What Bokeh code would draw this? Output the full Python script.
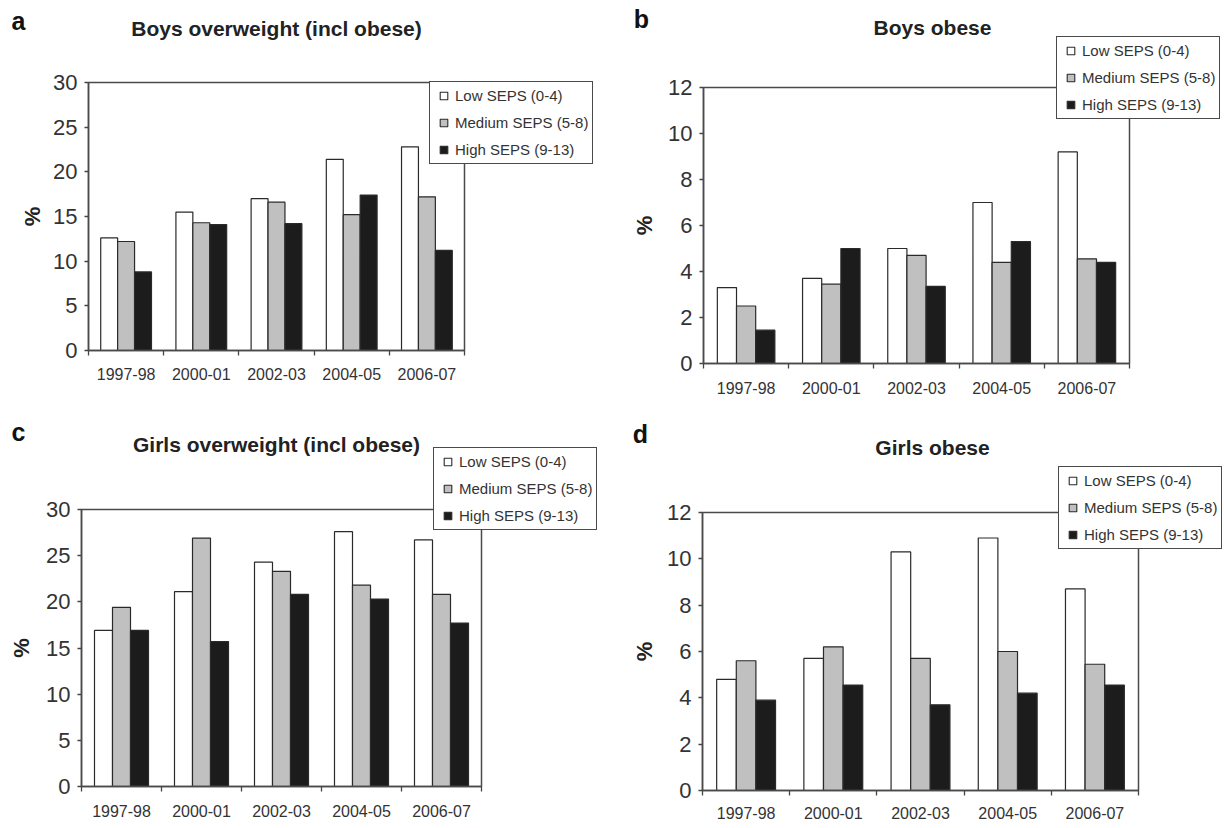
from bokeh.plotting import figure
from bokeh.models import Range1d, FixedTicker, Legend, LegendItem, Label, BoxAnnotation
from bokeh.layouts import column, row
from bokeh.embed import file_html
from bokeh.resources import INLINE

# ---------------- data ----------------
categories = ["1997-98", "2000-01", "2002-03", "2004-05", "2006-07"]
series_names = ["Low SEPS (0-4)", "Medium SEPS (5-8)", "High SEPS (9-13)"]

boys_ow_low = [12.6, 15.5, 17.0, 21.4, 22.8]
boys_ow_med = [12.2, 14.3, 16.6, 15.2, 17.2]
boys_ow_high = [8.8, 14.1, 14.2, 17.4, 11.2]

boys_ob_low = [3.3, 3.7, 5.0, 7.0, 9.2]
boys_ob_med = [2.5, 3.45, 4.7, 4.4, 4.55]
boys_ob_high = [1.45, 5.0, 3.35, 5.3, 4.4]

girls_ow_low = [16.9, 21.1, 24.3, 27.6, 26.7]
girls_ow_med = [19.4, 26.9, 23.3, 21.8, 20.8]
girls_ow_high = [16.9, 15.7, 20.8, 20.3, 17.7]

girls_ob_low = [4.8, 5.7, 10.3, 10.9, 8.7]
girls_ob_med = [5.6, 6.2, 5.7, 6.0, 5.45]
girls_ob_high = [3.9, 4.55, 3.7, 4.2, 4.55]

y_ticks_ow = [0, 5, 10, 15, 20, 25, 30]
y_ticks_ob = [0, 2, 4, 6, 8, 10, 12]

# ---------------- style ----------------
FONT = "Liberation Sans"
fills = ["#ffffff", "#c0c0c0", "#1c1c1c"]
edge = "#2a2a2a"
axis_col = "#444444"
BAR_W = 0.225
offsets = [-BAR_W, 0.0, BAR_W]
NAN = float("nan")


def make_panel(letter, title, series, yticks, size, box, legend_loc,
               title_xy, letter_xy, ylab_standoff, xlab_standoff):
    """box = (left, top, right, bottom) pixel position of the plotting box inside the figure."""
    W, H = size
    L, T, R, B = box
    n = len(categories)
    ymax = yticks[-1]
    sx = (R - L) / n          # px per category
    sy = (B - T) / ymax       # px per y unit
    x0, x1 = -0.5, n - 0.5
    xr = Range1d(x0 - L / sx, x1 + (W - R) / sx)
    yr = Range1d(-(H - B) / sy, ymax + T / sy)

    p = figure(width=W, height=H, title=None, x_range=xr, y_range=yr,
               output_backend="svg", toolbar_location=None,
               min_border_left=0, min_border_top=0,
               min_border_right=0, min_border_bottom=0)
    p.xgrid.visible = False
    p.ygrid.visible = False
    p.background_fill_color = "white"
    p.border_fill_color = "white"
    p.outline_line_color = None

    idx = list(range(n))
    for k, vals in enumerate(series):
        xs = [i + offsets[k] for i in idx]
        p.vbar(x=xs, top=vals, bottom=0, width=BAR_W,
               fill_color=fills[k], line_color=edge, line_width=1.2)

    # plotting box outline (top & right sides visible)
    p.add_layout(BoxAnnotation(left=x0, right=x1, bottom=0, top=ymax,
                               fill_alpha=0, line_color="#4a4a4a", line_alpha=1.0,
                               line_width=1.5))

    # x axis: labels at category centres, ticks at category boundaries
    xa = p.xaxis[0]
    xa.fixed_location = 0
    xa.bounds = (x0, x1)
    xa.ticker = FixedTicker(ticks=idx, minor_ticks=[i - 0.5 for i in range(n + 1)])
    xa.major_label_overrides = {i: c for i, c in zip(idx, categories)}
    xa.major_tick_line_color = None
    xa.major_tick_out = 0
    xa.major_tick_in = 0
    xa.minor_tick_in = 0
    xa.minor_tick_out = 5
    xa.minor_tick_line_color = axis_col
    xa.minor_tick_line_width = 1.3
    xa.axis_line_color = axis_col
    xa.axis_line_width = 1.5
    xa.major_label_standoff = xlab_standoff
    xa.major_label_text_font = FONT
    xa.major_label_text_font_size = "16px"
    xa.major_label_text_color = "#333333"

    ya = p.yaxis[0]
    ya.fixed_location = x0
    ya.bounds = (0, ymax)
    ya.ticker = FixedTicker(ticks=yticks)
    ya.minor_tick_line_color = None
    ya.major_tick_out = 4
    ya.major_tick_in = 0
    ya.major_tick_line_color = axis_col
    ya.major_tick_line_width = 1.3
    ya.axis_line_color = axis_col
    ya.axis_line_width = 1.5
    ya.major_label_standoff = 7
    ya.major_label_text_font = FONT
    ya.major_label_text_font_size = "22px"
    ya.major_label_text_color = "#333333"
    ya.axis_label = "%"
    ya.axis_label_text_font = FONT
    ya.axis_label_text_font_size = "22px"
    ya.axis_label_text_font_style = "bold"
    ya.axis_label_text_color = "#222222"
    ya.axis_label_standoff = ylab_standoff

    # legend (small square swatches; proxy renderers hold no visible point)
    rs = [p.scatter(x=[NAN], y=[NAN], marker="square", size=8, fill_color=fills[k],
                    line_color=edge, line_width=1.1) for k in range(3)]
    legend = Legend(items=[LegendItem(label=nm, renderers=[r]) for nm, r in zip(series_names, rs)],
                    location=legend_loc, margin=0, padding=4, spacing=8,
                    glyph_width=19, glyph_height=19, label_height=19, label_standoff=2,
                    label_text_font=FONT, label_text_font_size="15px",
                    label_text_color="#333333",
                    border_line_color="#4a4a4a", border_line_alpha=1.0, border_line_width=1.5,
                    background_fill_color="white", background_fill_alpha=1.0)
    p.add_layout(legend)

    p.add_layout(Label(x=title_xy[0], y=title_xy[1], x_units="screen", y_units="screen",
                       text=title, text_font=FONT, text_font_style="bold",
                       text_font_size="21px", text_align="center",
                       text_baseline="middle", text_color="#222222"))
    p.add_layout(Label(x=letter_xy[0], y=letter_xy[1], x_units="screen", y_units="screen",
                       text=letter, text_font=FONT, text_font_style="bold",
                       text_font_size="25px", text_align="center",
                       text_baseline="middle", text_color="#111111"))
    return p


pa = make_panel("a", "Boys overweight (incl obese)",
                [boys_ow_low, boys_ow_med, boys_ow_high], y_ticks_ow,
                (612, 414), (88, 82, 464, 350), (429, 250),
                (276, 386), (18, 394), 5, 12)
pb = make_panel("b", "Boys obese",
                [boys_ob_low, boys_ob_med, boys_ob_high], y_ticks_ob,
                (612, 414), (91, 87, 517, 363), (444, 295),
                (320, 387), (29, 396), 8, 13)
pc = make_panel("c", "Girls overweight (incl obese)",
                [girls_ow_low, girls_ow_med, girls_ow_high], y_ticks_ow,
                (612, 414), (81, 95, 481, 372), (433, 298),
                (276, 384), (18, 397), 9, 13)
pd_ = make_panel("d", "Girls obese",
                 [girls_ob_low, girls_ob_med, girls_ob_high], y_ticks_ob,
                 (612, 414), (90, 98, 526, 376), (446, 279),
                 (320, 381), (28, 395), 7, 11)

layout = column(row(pa, pb), row(pc, pd_))
open("out.html", "w").write(file_html(layout, INLINE))
